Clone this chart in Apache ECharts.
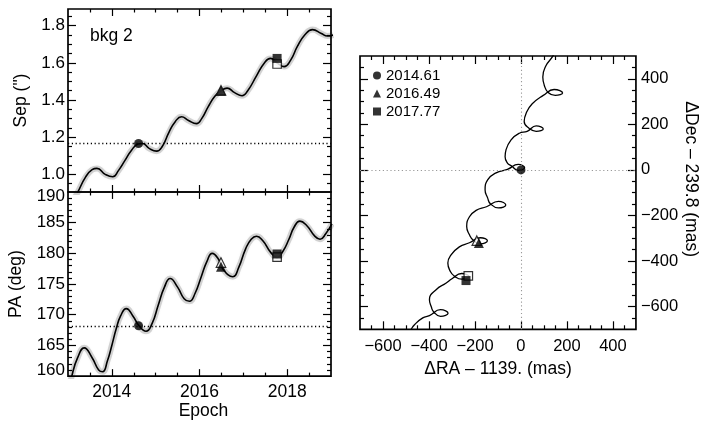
<!DOCTYPE html>
<html><head><meta charset="utf-8">
<script src="https://cdn.jsdelivr.net/npm/echarts@6/dist/echarts.min.js"></script>
<style>html,body{margin:0;padding:0;background:#fff}#c{width:701px;height:421px}</style>
</head><body><div id="c"></div>
<script>
// ---------------- data ----------------
const sepEpochs = [2013.05,2013.22,2013.40,2013.55,2013.66,2013.85,2014.02,2014.15,2014.30,2014.45,2014.60,2014.70,2014.85,2015.02,2015.15,2015.30,2015.45,2015.59,2015.75,2015.93,2016.05,2016.20,2016.35,2016.50,2016.63,2016.80,2016.97,2017.10,2017.30,2017.48,2017.62,2017.78,2017.93,2018.08,2018.23,2018.40,2018.58,2018.78,2018.92,2019.05];
const sepValues = [0.83,0.903,0.985,1.025,1.032,1.000,0.987,1.02,1.075,1.13,1.163,1.166,1.140,1.125,1.15,1.225,1.285,1.310,1.290,1.273,1.300,1.365,1.420,1.452,1.464,1.440,1.423,1.45,1.53,1.600,1.624,1.598,1.580,1.615,1.687,1.750,1.779,1.758,1.745,1.75];
const paEpochs = [2013.00,2013.09,2013.22,2013.37,2013.55,2013.70,2013.79,2013.90,2014.00,2014.10,2014.20,2014.33,2014.48,2014.62,2014.78,2014.92,2015.06,2015.20,2015.33,2015.50,2015.65,2015.77,2015.90,2016.04,2016.17,2016.29,2016.42,2016.55,2016.76,2016.90,2017.05,2017.18,2017.30,2017.45,2017.62,2017.77,2017.90,2018.04,2018.16,2018.29,2018.45,2018.62,2018.75,2018.88,2019.02];
const paValues = [157.0,160.1,163.0,164.6,163.0,161.0,160.7,162.5,165.0,167.7,169.8,171.0,169.8,168.2,167.3,168.6,171.6,174.5,175.9,174.5,172.6,172.2,173.5,176.2,178.7,180.0,179.2,177.3,176.2,177.8,180.7,182.3,182.8,182.0,180.2,179.3,180.3,182.3,184.3,185.25,184.5,182.9,182.3,183.2,184.8];
const trackRA  = [149,137,108,95,101,118,149,181,144,97,49,23,14,36,66,97,66,27,-7,-43,-65,-69,-58,-42,-12,16,-12,-59,-108,-145,-156,-145,-133,-98,-66,-98,-150,-195,-224,-236,-224,-207,-176,-146,-176,-224,-268,-304,-318,-307,-290,-258,-225,-258,-300,-325,-369,-398,-390,-380,-350,-317,-350,-398,-427,-463,-477,-493];
const trackDec = [526,497,456,408,373,340,327,338,353,327,290,250,212,182,169,180,193,169,161,132,88,58,29,18,-2,9,24,2,-13,-44,-88,-123,-149,-167,-154,-138,-162,-178,-206,-249,-285,-309,-325,-311,-298,-320,-338,-373,-409,-446,-466,-480,-469,-455,-478,-497,-526,-570,-601,-623,-643,-629,-614,-640,-650,-680,-699,-728];

const markerNames   = ['2014.61','2016.49','2017.77'];
const markerEpochs  = [2014.61, 2016.49, 2017.77];
const markerSep     = [1.166, 1.450, 1.624];
const markerSepOpen = [null, 1.452, 1.594];
const markerPA      = [168.2, 177.8, 179.9];
const markerPAOpen  = [null, 178.5, 179.4];
const markerRA      = [0, -183, -239];
const markerDec     = [0, -321, -486];
const markerRAOpen  = [null, -192, -229];
const markerDecOpen = [null, -311, -465];
const sepRef = 1.165;
const paRef = 168.2;

const yearTicks = [2014, 2016, 2018];
const sepTicks  = [1.0, 1.2, 1.4, 1.6, 1.8];
const paTicks   = [160, 165, 170, 175, 180, 185, 190];
const raTicks   = [-600, -400, -200, 0, 200, 400];
const decTicks  = [-600, -400, -200, 0, 200, 400];

// ---------------- chart ----------------
const FONT = 'Liberation Sans';
const chart = echarts.init(document.getElementById('c'));

function range(a, b, step){ const r=[]; for(let v=a; v<=b+1e-9; v+=step) r.push(+v.toFixed(6)); return r; }
function minorOf(all, majors){ return all.filter(v => !majors.some(m => Math.abs(m - v) < 1e-6)); }
const minus = v => (v < 0 ? '\u2212' + Math.abs(v) : String(v));

const EXT = {
  x0:[2013, 2019], y0:[0.905, 1.89],
  x1:[2013, 2019], y1:[160, 190],
  x2:[-700, 500], y2:[-700, 500]
};
const grids = [
  {left:68, top:9, width:263, height:183},
  {left:68, top:192, width:263, height:185.5},
  {left:360, top:56, width:276.7, height:273.3}
].map(g => Object.assign({show:true, borderColor:'#000', borderWidth:1.7}, g));

function ax(grid, pos, ext, extra){
  return Object.assign({type:'value', gridIndex:grid, position:pos, min:ext[0], max:ext[1],
    axisLine:{show:false, onZero:false}, splitLine:{show:false}, axisLabel:{show:false}, axisTick:{show:false}}, extra || {});
}
const lab = (size, extra) => Object.assign({show:true, color:'#000', fontFamily:FONT, fontSize:size}, extra);
const nameStyle = (size, extra) => Object.assign({color:'#000', fontFamily:FONT, fontSize:size}, extra);
const rich = {
  lo:{fontFamily:FONT, fontSize:17, color:'#000', padding:[0,0,11,0]},
  hi:{fontFamily:FONT, fontSize:17, color:'#000', padding:[8,0,0,0]}
};

const xAxes = [
  ax(0, 'bottom', EXT.x0),
  ax(1, 'bottom', EXT.x1, {
    axisLabel: lab(17.5, {customValues:yearTicks, margin:7, formatter:v => String(v)}),
    name:'Epoch', nameLocation:'middle', nameGap:25, nameTextStyle:nameStyle(17.5, {padding:[0,0,0,8]})}),
  ax(2, 'bottom', EXT.x2, {
    axisLabel: lab(16.5, {customValues:raTicks, margin:9, formatter:minus}),
    name:'\u0394RA \u2013 1139. (mas)', nameLocation:'middle', nameGap:27, nameTextStyle:nameStyle(17.5)})
];
const yAxes = [
  ax(0, 'left', EXT.y0, {
    axisLabel: lab(17, {customValues:sepTicks, margin:3, formatter:v => v.toFixed(1)}),
    name:'Sep (")', nameLocation:'middle', nameRotate:90, nameGap:38, nameTextStyle:nameStyle(17.5)}),
  ax(1, 'left', EXT.y1, {
    axisLabel: lab(17, {customValues:paTicks, margin:3, rich:rich,
      formatter:v => (v === EXT.y1[0] ? '{lo|' + v + '}' : v === EXT.y1[1] ? '{hi|' + v + '}' : String(v))}),
    name:'PA (deg)', nameLocation:'middle', nameRotate:90, nameGap:43, nameTextStyle:nameStyle(17.5)}),
  ax(2, 'right', EXT.y2, {
    axisLabel: lab(16.5, {customValues:decTicks, margin:5, formatter:minus}),
    name:'\u0394Dec \u2013 239.8 (mas)', nameLocation:'middle', nameRotate:-90, nameGap:46, nameTextStyle:nameStyle(17.5, {padding:[0,27,0,0]})})
];

const zip = (a, b) => a.map((v, i) => [v, b[i]]);
const series = [];

// inward tick marks on all four sides, drawn as short markLine segments in axis coordinates
function tickMarks(gi, xMaj, xMin, yMaj, yMin, xLen, yLen){
  const g = grids[gi], ex = EXT['x' + gi], ey = EXT['y' + gi];
  const dy = px => px * (ey[1] - ey[0]) / g.height;
  const dx = px => px * (ex[1] - ex[0]) / g.width;
  const segs = [];
  const addX = (v, L) => {
    segs.push([{coord:[v, ey[0]]}, {coord:[v, ey[0] + dy(L)]}]);
    segs.push([{coord:[v, ey[1]]}, {coord:[v, ey[1] - dy(L)]}]);
  };
  const addY = (v, L) => {
    segs.push([{coord:[ex[0], v]}, {coord:[ex[0] + dx(L), v]}]);
    segs.push([{coord:[ex[1], v]}, {coord:[ex[1] - dx(L), v]}]);
  };
  xMaj.forEach(v => addX(v, xLen[0])); xMin.forEach(v => addX(v, xLen[1]));
  yMaj.forEach(v => addY(v, yLen[0])); yMin.forEach(v => addY(v, yLen[1]));
  series.push({type:'line', xAxisIndex:gi, yAxisIndex:gi, data:[[ex[0], ey[0]]], showSymbol:false, silent:true, z:6,
    lineStyle:{width:0, opacity:0},
    markLine:{silent:true, symbol:['none','none'], label:{show:false}, animation:false,
      lineStyle:{type:'solid', color:'#000', width:1.2}, emphasis:{disabled:true}, data:segs}});
}
const yearMinor = minorOf(range(2013.5, 2018.5, 0.5), yearTicks);
tickMarks(0, yearTicks, yearMinor, sepTicks, minorOf(range(0.95, 1.85, 0.05), sepTicks), [7, 3.5], [8, 4]);
tickMarks(1, yearTicks, yearMinor, minorOf(paTicks, [160, 190]), minorOf(range(161, 189, 1), paTicks), [7, 3.5], [8, 4]);
tickMarks(2, raTicks, minorOf(range(-650, 450, 50), raTicks), decTicks, minorOf(range(-650, 450, 50), decTicks), [8, 4], [8, 4]);

function curve(xi, yi, data, ref, band){
  if (band) series.push({type:'line', xAxisIndex:xi, yAxisIndex:yi, data:data, smooth:0.5, showSymbol:false, silent:true, z:2,
    lineStyle:{color:'rgba(0,0,0,0.16)', width:6, shadowColor:'rgba(0,0,0,0.22)', shadowBlur:3}});
  const s = {type:'line', xAxisIndex:xi, yAxisIndex:yi, data:data, smooth:0.5, showSymbol:false, silent:true, z:3,
    lineStyle:{color:'#000', width:band ? 1.6 : 1.3}};
  if (ref) s.markLine = ref;
  series.push(s);
}
const dotted = (color, width) => ({type:[1.2, 2.6], color:color, width:width});
curve(0, 0, zip(sepEpochs, sepValues), {silent:true, symbol:'none', label:{show:false}, lineStyle:dotted('#000', 1.3), data:[{yAxis:sepRef}]}, true);
curve(1, 1, zip(paEpochs, paValues), {silent:true, symbol:'none', label:{show:false}, lineStyle:dotted('#000', 1.3), data:[{yAxis:paRef}]}, true);
curve(2, 2, zip(trackRA, trackDec), {silent:true, symbol:'none', label:{show:false}, lineStyle:dotted('#9a9a9a', 1.1), data:[{xAxis:0},{yAxis:0}]}, false);

const symbols = ['circle', 'triangle', 'rect'];
const sizes = [9, 10, 9];
function markers(gi, xs, ys, xo, yo){
  markerNames.forEach((n, i) => {
    if (xo[i] != null && yo[i] != null) series.push({type:'scatter', name:n + ' open', xAxisIndex:gi, yAxisIndex:gi,
      data:[[xo[i], yo[i]]], symbol:symbols[i], symbolSize:sizes[i] - 0.5, silent:true, z:4,
      itemStyle:{color:'#fff', borderColor:'#000', borderWidth:1.2}});
    series.push({type:'scatter', name:n, xAxisIndex:gi, yAxisIndex:gi, data:[[xs[i], ys[i]]],
      symbol:symbols[i], symbolSize:sizes[i], silent:true, z:5, itemStyle:{color:'#000'}});
  });
}
markers(0, markerEpochs, markerSep, markerEpochs, markerSepOpen);
markers(1, markerEpochs, markerPA, markerEpochs, markerPAOpen);
markers(2, markerRA, markerDec, markerRAOpen, markerDecOpen);

chart.setOption({
  animation:false,
  grid:grids,
  xAxis:xAxes,
  yAxis:yAxes,
  legend:{show:true, selectedMode:false, orient:'vertical', left:368, top:63,
    itemWidth:8, itemHeight:8, itemGap:3,
    data:markerNames.map((n, i) => ({name:n, icon:symbols[i]})),
    textStyle:{fontFamily:FONT, fontSize:15, color:'#000'}},
  graphic:[{type:'text', left:90, top:27, silent:true,
    style:{text:'bkg 2', fontFamily:FONT, fontSize:17.5, fill:'#000'}}],
  series:series
});
</script></body></html>
